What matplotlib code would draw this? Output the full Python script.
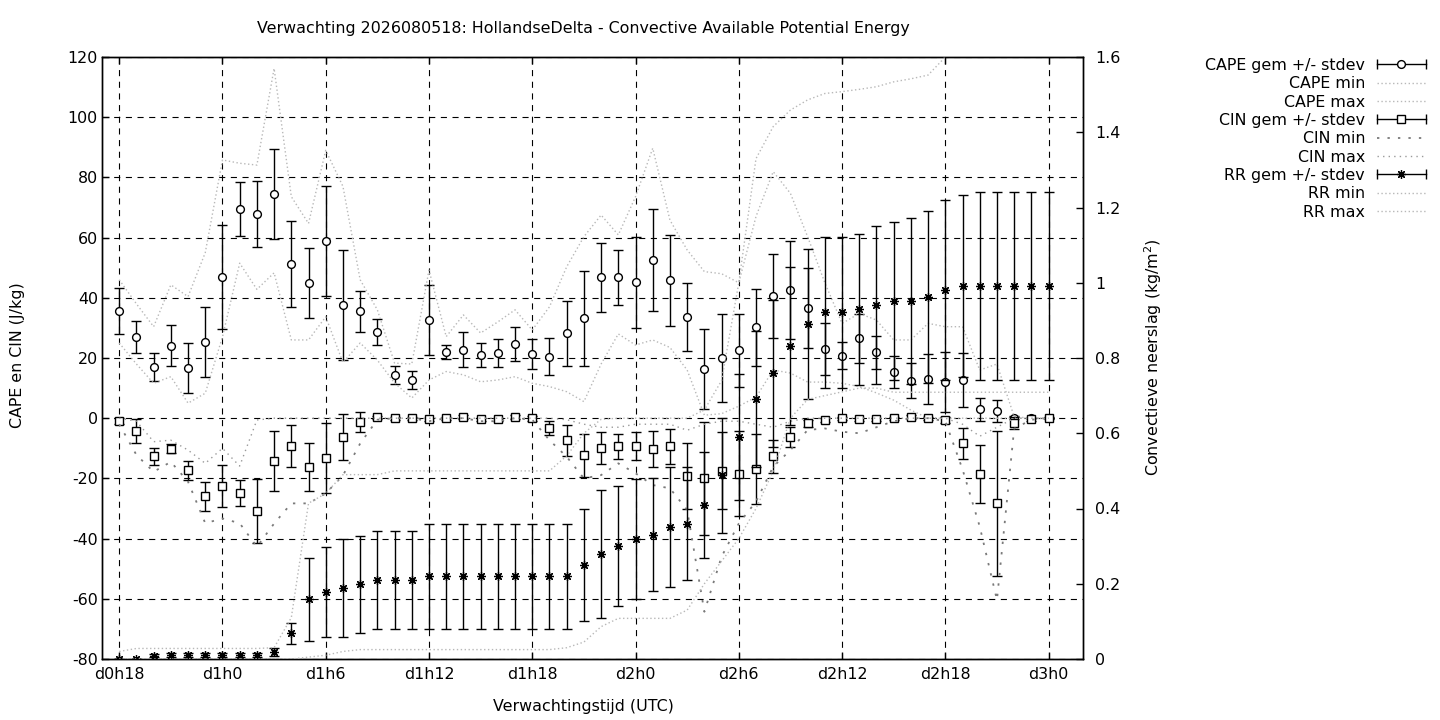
import matplotlib
matplotlib.use("Agg")
import matplotlib.pyplot as plt
from matplotlib.lines import Line2D
from matplotlib.legend_handler import HandlerLine2D, HandlerTuple

# ---------------- data (hours since d0h0) ----------------
hours = list(range(18, 73))

cape_mean = [35.6, 26.9, 16.9, 24.0, 16.6, 25.2,
             46.9, 69.5, 67.8, 74.5, 51.2, 44.9,
             58.9, 37.6, 35.6, 28.6, 14.4, 12.6,
             32.6, 22.0, 22.7, 21.0, 21.7, 24.6,
             21.3, 20.4, 28.2, 33.2, 46.8, 46.8,
             45.1, 52.5, 45.8, 33.5, 16.4, 20.0,
             22.5, 30.2, 40.5, 42.6, 36.5, 22.9,
             20.7, 26.5, 21.9, 15.3, 12.4, 13.0,
             12.0, 12.7, 3.0, 2.4, 0.2, 0.0, 0.0]
cape_std = [7.5, 5.3, 4.7, 6.8, 8.3, 11.6,
            17.4, 9.1, 11.0, 15.1, 14.4, 11.6,
            18.3, 18.2, 6.8, 4.4, 3.0, 3.0,
            11.6, 2.3, 5.8, 4.0, 4.6, 5.6,
            5.0, 6.1, 10.8, 15.7, 11.5, 9.2,
            15.0, 17.0, 15.1, 11.3, 13.2, 14.7,
            12.1, 12.8, 14.0, 16.3, 13.3, 8.6,
            4.5, 8.0, 5.5, 5.3, 5.8, 8.3,
            10.0, 9.1, 3.8, 3.8, 0.5, 0.0, 0.0]
cape_min = [25, 18, 11.6, 13.8, 5.0, 8.3,
            27, 51.5, 42.8, 48.3, 26, 26,
            33.7, 18.5, 25, 19.3, 11.7, 6.7,
            12.7, 15.5, 14.4, 12.1, 12.7, 13.8,
            11.6, 10.5, 8.8, 5.5, 18, 28,
            24.3, 26, 23.5, 16, 1.0, 1.5,
            4, 7, 16, 15, 12, 12,
            11.6, 10.5, 8.4, 6, 2.7, 0,
            0, 0, 0, 0, 0, 0, 0]
cape_max = [46, 38, 30.4, 44.3, 40.4, 55,
            85.8, 84.7, 84.1, 116.2, 73.6, 64.7,
            89, 77, 46, 36, 18.3, 18,
            49.2, 27.1, 34.3, 28.3, 32, 36,
            29.3, 37, 50.3, 60.3, 67.5, 60.9,
            73.6, 89.7, 65.8, 55.9, 48.7, 48,
            45, 67, 81.9, 74.7, 60.3, 45,
            31.5, 34.8, 32.6, 26, 26, 31.5,
            30.4, 30.4, 16, 18, 0.5, 0, 0]

cin_mean = [-1.0, -4.3, -12.7, -10.2, -17.3, -26.0,
            -22.6, -24.8, -30.9, -14.3, -9.3, -16.3,
            -13.3, -6.3, -1.3, 0.3, 0.0, 0.0,
            -0.3, 0.0, 0.4, -0.3, -0.3, 0.4,
            0.0, -3.3, -7.3, -12.3, -10.0, -9.3,
            -9.3, -10.3, -9.3, -19.3, -20.0, -17.4,
            -18.4, -17.0, -12.7, -6.2, -1.7, -0.6,
            0.0, -0.3, -0.3, 0.0, 0.4, 0.0,
            -0.6, -8.3, -18.6, -28.3, -1.5, -0.3, 0.0]
cin_std = [1, 4, 2.8, 1.5, 3.2, 4.8,
           6.9, 4.3, 10.7, 10, 7, 8,
           11.6, 7.6, 3.3, 0.5, 0.5, 0.5,
           0.5, 0.5, 0.5, 0.5, 0.5, 0.5,
           0.8, 2.4, 5.2, 7.2, 5.3, 4.2,
           4.6, 6.0, 5.8, 11, 18.8, 12.9,
           14, 11.6, 5.6, 3.4, 1.2, 0.8,
           0.5, 0.5, 0.5, 0.5, 0.5, 0.5,
           1.0, 5.2, 9.7, 24, 2, 0.5, 0.3]
cin_min = [-2, -12.2, -17.8, -14.5, -21.1, -34.9,
           -33.3, -34.9, -42.7, -35, -28.3, -28.3,
           -25, -19, -8.4, -0.5, 0, 0,
           -1, 0, 0, -1, -1, 0,
           -0.5, -7.3, -12.8, -20, -18.9, -15,
           -18.3, -22.2, -23.3, -30.5, -64.3, -46,
           -35, -27.7, -16.1, -10.6, -3.9, -3.4,
           -4.5, -5, -3, -1, 0, 0,
           -1, -17, -36, -60.4, -3.5, -0.5, 0]
cin_max = [0, -1, -7.8, -7.3, -10.6, -15,
           -10, -15.9, -0.6, 0, 0, 0,
           0, 0, 0, 0, 0, 0,
           0, 0, 0, 0, 0, 0,
           0, 0, -0.5, -2, -3, -3,
           -2, -2, -2, -4, -2, -1,
           -1, -2, -3, -1, 0, 0,
           0, 0, 0, 0, 0, 0,
           0, -2, -6, -3, 0, 0, 0]

rr_mean = [0, 0, 0.008, 0.01, 0.01, 0.01,
           0.01, 0.01, 0.01, 0.018, 0.068, 0.159,
           0.178, 0.188, 0.199, 0.21, 0.21, 0.21,
           0.22, 0.22, 0.22, 0.22, 0.22, 0.22,
           0.22, 0.22, 0.22, 0.25, 0.279, 0.30,
           0.319, 0.33, 0.351, 0.359, 0.409, 0.488,
           0.59, 0.691, 0.759, 0.832, 0.89, 0.921,
           0.921, 0.929, 0.94, 0.951, 0.951, 0.962,
           0.981, 0.991, 0.991, 0.991, 0.991, 0.991, 0.991]
rr_std = [0, 0, 0.004, 0.005, 0.005, 0.005,
          0.005, 0.005, 0.005, 0.01, 0.028, 0.11,
          0.12, 0.13, 0.129, 0.129, 0.129, 0.129,
          0.139, 0.139, 0.139, 0.139, 0.139, 0.139,
          0.139, 0.139, 0.139, 0.15, 0.17, 0.16,
          0.16, 0.15, 0.16, 0.15, 0.14, 0.152,
          0.168, 0.18, 0.195, 0.21, 0.2, 0.2,
          0.2, 0.2, 0.21, 0.21, 0.22, 0.228,
          0.24, 0.241, 0.249, 0.249, 0.249, 0.249, 0.249]
rr_min = [0, 0, 0, 0, 0, 0,
          0, 0, 0, 0, 0, 0.005,
          0.01, 0.02, 0.025, 0.025, 0.025, 0.025,
          0.025, 0.025, 0.025, 0.025, 0.025, 0.025,
          0.025, 0.025, 0.03, 0.045, 0.086, 0.108,
          0.108, 0.108, 0.108, 0.13, 0.2, 0.26,
          0.32, 0.4, 0.5, 0.64, 0.69, 0.70,
          0.71, 0.72, 0.72, 0.709, 0.709, 0.709,
          0.709, 0.709, 0.709, 0.709, 0.709, 0.709, 0.709]
rr_max = [0.02, 0.028, 0.028, 0.028, 0.028, 0.028,
          0.028, 0.028, 0.028, 0.03, 0.11, 0.414,
          0.44, 0.49, 0.49, 0.49, 0.5, 0.5,
          0.5, 0.5, 0.5, 0.5, 0.5, 0.5,
          0.5, 0.5, 0.54, 0.6, 0.637, 0.64,
          0.64, 0.64, 0.64, 0.64, 0.662, 0.74,
          1.0, 1.33, 1.415, 1.459, 1.486, 1.503,
          1.508, 1.514, 1.521, 1.534, 1.542, 1.552,
          1.6, 1.65, 1.65, 1.65, 1.65, 1.65, 1.65]

xtick_hours = [18, 24, 30, 36, 42, 48, 54, 60, 66, 72]
xtick_labels = ["d%dh%d" % (h // 24, h % 24) for h in xtick_hours]
left_ticks = [-80, -60, -40, -20, 0, 20, 40, 60, 80, 100, 120]
right_ticks = [0, 0.2, 0.4, 0.6, 0.8, 1.0, 1.2, 1.4, 1.6]
right_labels = ["0", "0.2", "0.4", "0.6", "0.8", "1", "1.2", "1.4", "1.6"]

title = "Verwachting 2026080518: HollandseDelta - Convective Available Potential Energy"

# ---------------- styles ----------------
FS = 11.4
plt.rcParams['font.family'] = ['DejaVu Sans']
plt.rcParams['font.size'] = FS

W, H = 1440, 720
fig = plt.figure(figsize=(14.4, 7.2), dpi=100)
L, R, T, B = 102, 1083, 57, 659
ax = fig.add_axes([L / W, 1 - B / H, (R - L) / W, (B - T) / H])
ax2 = ax.twinx()

light = '#b8b8b8'
cin_min_col = '#7a7a7a'
cin_max_col = '#9a9a9a'
dot_ls = (0, (1, 1.8))
cin_min_ls = (0, (1.3, 4.5))
cin_max_ls = (0, (1, 3))

eb_kw = dict(ecolor='black', elinewidth=1.0, capsize=3.4, capthick=1.0,
             mec='black', mew=1.0, ls='none')

# CAPE
ax.errorbar(hours, cape_mean, yerr=cape_std, fmt='o', mfc='white', ms=5.6,
            zorder=3, **eb_kw)
ax.plot(hours, cape_min, color=light, ls=dot_ls, lw=1.0, zorder=4)
ax.plot(hours, cape_max, color=light, ls=dot_ls, lw=1.0, zorder=4)
# CIN
ax.errorbar(hours, cin_mean, yerr=cin_std, fmt='s', mfc='white', ms=5.4,
            zorder=5, **eb_kw)
ax.plot(hours, cin_min, color=cin_min_col, ls=cin_min_ls, lw=1.3, zorder=6)
ax.plot(hours, cin_max, color=cin_max_col, ls=cin_max_ls, lw=1.0, zorder=6)
# RR (right axis)
ax2.errorbar(hours, rr_mean, yerr=rr_std, fmt='none', zorder=3, **eb_kw)
ax2.plot(hours, rr_mean, ls='none', marker=(8, 2, 0), ms=6.3, mew=0.9,
         color='black', zorder=4)
ax2.plot(hours, rr_min, color=light, ls=dot_ls, lw=1.0, zorder=5)
ax2.plot(hours, rr_max, color=light, ls=dot_ls, lw=1.0, zorder=5)

# axes ranges & ticks
ax.set_xlim(17, 74)
ax.set_ylim(-80, 120)
ax2.set_ylim(0, 1.6)
ax.set_xticks(xtick_hours)
ax.set_xticklabels(xtick_labels)
ax.set_yticks(left_ticks)
ax.set_yticklabels([str(v) for v in left_ticks])
ax2.set_yticks(right_ticks)
ax2.set_yticklabels(right_labels)

ax.tick_params(axis='y', which='both', direction='in', length=5, width=1,
               left=True, right=False, pad=3, labelsize=FS)
ax.tick_params(axis='x', which='both', direction='in', length=5, width=1,
               bottom=True, top=True, pad=6, labelsize=FS)
ax2.tick_params(axis='y', direction='in', length=5, width=1, right=True,
                pad=9, labelsize=FS)

ax.grid(True, color='black', ls=(0, (5.5, 5)), lw=0.8)
ax.set_axisbelow(True)
for a in (ax, ax2):
    for s in a.spines.values():
        s.set_linewidth(1.0)
        s.set_color('black')

# labels
fig.text(583 / W, 1 - 28 / H, title, ha='center', va='center', fontsize=FS)
fig.text(583 / W, 1 - 706 / H, "Verwachtingstijd (UTC)", ha='center',
         va='center', fontsize=FS)
fig.text(18 / W, 1 - 355 / H, "CAPE en CIN (J/kg)", ha='center', va='center',
         rotation=90, fontsize=FS)
fig.text(1153 / W, 1 - 357 / H, "Convectieve neerslag (kg/m$^2$)", ha='center',
         va='center', rotation=90, fontsize=FS)

# legend
def err_handle(marker, mfc, ms, mew):
    cap = Line2D([], [], color='black', lw=1.0, marker='|', ms=7, mew=1.0)
    pt = Line2D([], [], ls='none', marker=marker, mfc=mfc, mec='black',
                color='black', ms=ms, mew=mew)
    return (cap, pt), cap, pt

h_cape, cap1, pt1 = err_handle('o', 'white', 5.6, 1.0)
h_cin, cap2, pt2 = err_handle('s', 'white', 5.4, 1.0)
h_rr, cap3, pt3 = err_handle((8, 2, 0), 'black', 6.3, 0.9)

handles = [h_cape,
           Line2D([], [], color=light, ls=dot_ls, lw=1.0),
           Line2D([], [], color=light, ls=dot_ls, lw=1.0),
           h_cin,
           Line2D([], [], color=cin_min_col, ls=cin_min_ls, lw=1.3),
           Line2D([], [], color=cin_max_col, ls=cin_max_ls, lw=1.0),
           h_rr,
           Line2D([], [], color=light, ls=dot_ls, lw=1.0),
           Line2D([], [], color=light, ls=dot_ls, lw=1.0)]
labels = ["CAPE gem +/- stdev", "CAPE min", "CAPE max",
          "CIN gem +/- stdev", "CIN min", "CIN max",
          "RR gem +/- stdev", "RR min", "RR max"]

hmap = {tuple: HandlerTuple(ndivide=1, pad=0)}
for c in (cap1, cap2, cap3):
    hmap[c] = HandlerLine2D(numpoints=2, marker_pad=0)
for p in (pt1, pt2, pt3):
    hmap[p] = HandlerLine2D(numpoints=1)

fig.legend(handles, labels, handler_map=hmap, loc='upper right',
           bbox_to_anchor=(1426 / W, 1 - 58 / H), frameon=False,
           markerfirst=False, handlelength=3.1, handletextpad=0.75,
           labelspacing=0.21, borderaxespad=0, borderpad=0, fontsize=FS)

fig.savefig("out.png", dpi=100)
